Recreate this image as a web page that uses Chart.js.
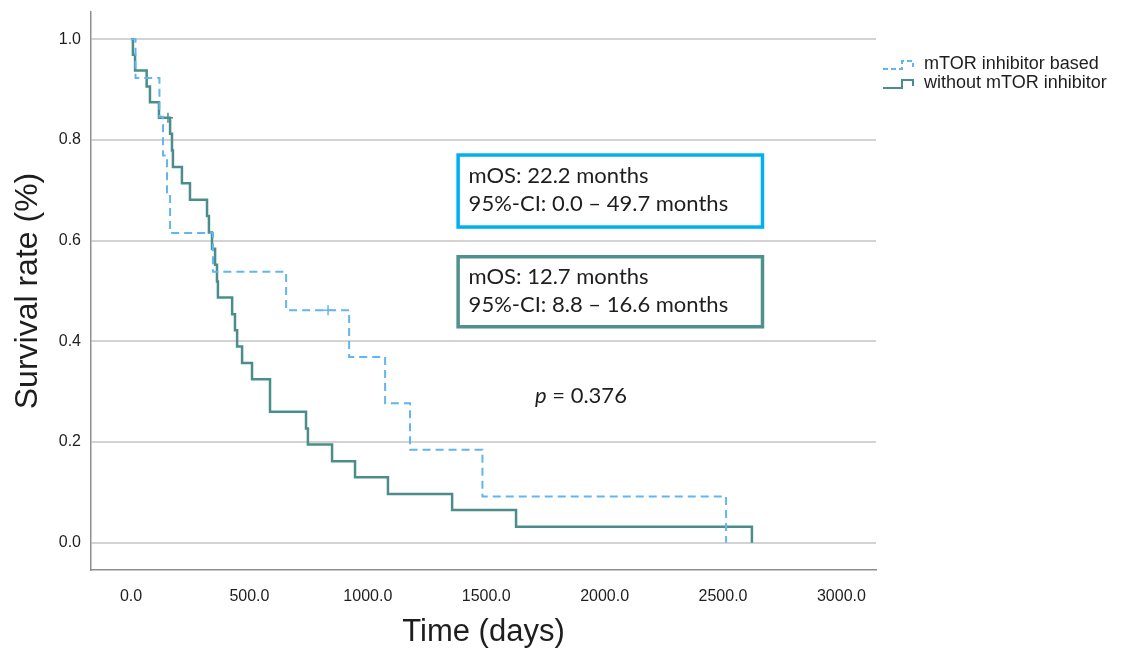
<!DOCTYPE html>
<html>
<head>
<meta charset="utf-8">
<script src="https://cdn.jsdelivr.net/npm/chart.js@4.4.1/dist/chart.umd.min.js"></script>
<style>
  html, body { margin: 0; padding: 0; background: #ffffff; }
  #wrap { width: 1129px; height: 653px; position: relative; }
</style>
</head>
<body>
<div id="wrap"><canvas id="km" width="1129" height="653"></canvas></div>
<script>
// ---------- DATA ----------
const seriesNames = ['mTOR inhibitor based', 'without mTOR inhibitor'];

// Kaplan-Meier steps: time of each event (days) and survival after it
const mtorDays = [0, 19, 120, 135, 152, 165, 346, 655, 921, 1073, 1178, 1484, 2513];
const mtorSurv = [1.0, 0.923, 0.846, 0.769, 0.692, 0.615, 0.538, 0.462, 0.369, 0.277, 0.185, 0.092, 0.0];
const mtorCensorDays = [832];
const mtorCensorSurv = [0.462];

const noMtorDays = [0, 8, 17, 66, 80, 118, 165, 173, 177, 215, 249, 321, 329, 342, 355, 363, 367,
  427, 439, 448, 469, 511, 587, 739, 747, 849, 946, 1085, 1356, 1626, 2622];
const noMtorSurv = [1.0, 0.969, 0.938, 0.906, 0.875, 0.844, 0.812, 0.779, 0.746, 0.714, 0.681, 0.649,
  0.616, 0.584, 0.552, 0.519, 0.487, 0.454, 0.422, 0.390, 0.357, 0.325, 0.260, 0.227, 0.195, 0.162,
  0.130, 0.097, 0.065, 0.032, 0.0];
const noMtorCensorDays = [156];
const noMtorCensorSurv = [0.844];

const xTickValues = [0, 500, 1000, 1500, 2000, 2500, 3000];
const yTickValues = [0, 0.2, 0.4, 0.6, 0.8, 1.0];

const xTitle = 'Time (days)';
const yTitle = 'Survival rate (%)';

const mtorBoxText = ['mOS: 22.2 months', '95%-CI: 0.0 \u2013 49.7 months'];
const noMtorBoxText = ['mOS: 12.7 months', '95%-CI: 8.8 \u2013 16.6 months'];
const pLabel = 'p';
const pValueText = ' = 0.376';

// annotation anchors in data coordinates [days, survival]
const mtorBoxRange = { x0: 1375, x1: 2673, y0: 0.624, y1: 0.773 };
const noMtorBoxRange = { x0: 1375, x1: 2673, y0: 0.426, y1: 0.571 };
const pValueAnchor = { x: 1900, y: 0.291 };

// ---------- STYLE ----------
const COL_MTOR = '#62b5ee';
const COL_NOMTOR = '#4b8d89';
const COL_BOX_MTOR = '#00b0f0';
const COL_BOX_NOMTOR = '#4f918c';
const W = 1129, H = 653;
const PLOT_LEFT = 91, PLOT_RIGHT = 876, PLOT_TOP = 12, PLOT_BOTTOM = 570;
const LEGEND_FONT = { family: "'Liberation Sans', Arial, sans-serif", size: 18 };
const LEGEND_PAD = 1, LEGEND_BOX = 38;
const ANNOT_FONT = '22px Lato, "Open Sans", sans-serif';
const ANNOT_FONT_I = 'italic 22px Lato, "Open Sans", sans-serif';

function pairs(xs, ys) { return xs.map((v, i) => ({ x: v, y: ys[i] })); }

function makeIcon(color, dash) {
  const c = document.createElement('canvas');
  c.width = LEGEND_BOX; c.height = 18;
  const g = c.getContext('2d');
  g.strokeStyle = color; g.lineWidth = 2;
  g.setLineDash(dash);
  g.beginPath();
  g.moveTo(6, 14); g.lineTo(25, 14); g.lineTo(25, 6); g.lineTo(36, 6); g.lineTo(36, 12);
  g.stroke();
  return c;
}
const icons = [makeIcon(COL_MTOR, [5, 3]), makeIcon(COL_NOMTOR, [])];

// legend width -> right padding so the plot ends at PLOT_RIGHT
const mc = document.createElement('canvas').getContext('2d');
mc.font = LEGEND_FONT.size + 'px ' + LEGEND_FONT.family;
const textW = Math.max(...seriesNames.map(s => mc.measureText(s).width));
const legendWidth = LEGEND_PAD + LEGEND_BOX + LEGEND_FONT.size / 2 + textW + 10;
const padRight = Math.max(0, W - PLOT_RIGHT - legendWidth);

const annotationPlugin = {
  id: 'kmAnnotations',
  afterDraw(chart) {
    const { ctx } = chart;
    const xs = chart.scales.x, ys = chart.scales.y;
    function drawBox(r, color, lines) {
      const l = xs.getPixelForValue(r.x0), rt = xs.getPixelForValue(r.x1);
      const t = ys.getPixelForValue(r.y1), b = ys.getPixelForValue(r.y0);
      ctx.save();
      ctx.fillStyle = '#ffffff';
      ctx.fillRect(l, t, rt - l, b - t);
      ctx.lineWidth = 3.5;
      ctx.strokeStyle = color;
      ctx.strokeRect(l + 1.5, t + 1.5, rt - l - 3, b - t - 3);
      ctx.fillStyle = '#1e1e1e';
      ctx.font = ANNOT_FONT;
      ctx.textBaseline = 'middle';
      ctx.textAlign = 'left';
      lines.forEach((s, i) => ctx.fillText(s, l + 12, t + 22 + i * 28));
      ctx.restore();
    }
    drawBox(mtorBoxRange, COL_BOX_MTOR, mtorBoxText);
    drawBox(noMtorBoxRange, COL_BOX_NOMTOR, noMtorBoxText);

    const cx = xs.getPixelForValue(pValueAnchor.x), cy = ys.getPixelForValue(pValueAnchor.y);
    ctx.save();
    ctx.fillStyle = '#1e1e1e';
    ctx.textBaseline = 'middle';
    ctx.textAlign = 'left';
    ctx.font = ANNOT_FONT_I;
    const w1 = ctx.measureText(pLabel).width;
    ctx.font = ANNOT_FONT;
    const w2 = ctx.measureText(pValueText).width;
    const x0 = cx - (w1 + w2) / 2;
    ctx.font = ANNOT_FONT_I;
    ctx.fillText(pLabel, x0, cy);
    ctx.font = ANNOT_FONT;
    ctx.fillText(pValueText, x0 + w1, cy);
    ctx.restore();
  }
};

new Chart(document.getElementById('km'), {
  type: 'line',
  data: {
    datasets: [
      {
        label: seriesNames[0],
        data: pairs(mtorDays, mtorSurv),
        stepped: 'before',
        borderColor: COL_MTOR,
        backgroundColor: COL_MTOR,
        borderWidth: 2,
        borderDash: [8, 5],
        pointRadius: 0,
        fill: false
      },
      {
        label: seriesNames[1],
        data: pairs(noMtorDays, noMtorSurv),
        stepped: 'before',
        borderColor: COL_NOMTOR,
        backgroundColor: COL_NOMTOR,
        borderWidth: 2.5,
        pointRadius: 0,
        fill: false
      },
      {
        label: 'censored-1',
        data: pairs(mtorCensorDays, mtorCensorSurv),
        showLine: false,
        pointStyle: 'cross',
        pointRadius: 5,
        borderColor: COL_MTOR,
        borderWidth: 1.5
      },
      {
        label: 'censored-2',
        data: pairs(noMtorCensorDays, noMtorCensorSurv),
        showLine: false,
        pointStyle: 'cross',
        pointRadius: 5,
        borderColor: COL_NOMTOR,
        borderWidth: 1.5
      }
    ]
  },
  options: {
    responsive: false,
    animation: false,
    devicePixelRatio: 1,
    layout: { padding: { left: 0, top: PLOT_TOP, right: padRight, bottom: 0 } },
    plugins: {
      tooltip: { enabled: false },
      legend: {
        position: 'right',
        align: 'start',
        title: { display: true, text: ' ', font: { size: 10 }, padding: { top: 30, bottom: 0 } },
        labels: {
          usePointStyle: true,
          pointStyleWidth: LEGEND_BOX,
          boxHeight: 18,
          padding: LEGEND_PAD,
          color: '#1e1e1e',
          font: LEGEND_FONT,
          generateLabels: (chart) => {
            const items = Chart.defaults.plugins.legend.labels.generateLabels(chart);
            return items.filter(it => it.datasetIndex < 2)
                        .map(it => Object.assign(it, { pointStyle: icons[it.datasetIndex] }));
          }
        }
      }
    },
    scales: {
      x: {
        type: 'linear',
        min: -169,
        max: 3146,
        afterBuildTicks: (s) => { s.ticks = xTickValues.map(v => ({ value: v })); },
        afterFit: (s) => { s.height = H - PLOT_BOTTOM; s.paddingLeft = 0; s.paddingRight = 0; },
        grid: { display: false, drawTicks: false },
        border: { display: true, color: '#8e8e8e', width: 1.5 },
        ticks: {
          padding: 17,
          color: '#1e1e1e',
          font: { family: "'Liberation Sans', Arial, sans-serif", size: 16 },
          maxRotation: 0,
          callback: (v) => Number(v).toFixed(1)
        },
        title: {
          display: true,
          text: xTitle,
          color: '#1e1e1e',
          font: { family: "'Liberation Sans', Arial, sans-serif", size: 31 },
          padding: { top: 0, bottom: 1.5 }
        }
      },
      y: {
        type: 'linear',
        min: -0.054,
        max: 1.054,
        afterBuildTicks: (s) => { s.ticks = yTickValues.map(v => ({ value: v })); },
        afterFit: (s) => { s.width = PLOT_LEFT; s.paddingTop = 0; s.paddingBottom = 0; },
        grid: { display: true, drawTicks: false, color: '#d3d3d3', lineWidth: 2 },
        border: { display: true, color: '#8e8e8e', width: 1.5 },
        ticks: {
          padding: 10,
          color: '#1e1e1e',
          font: { family: "'Liberation Sans', Arial, sans-serif", size: 16 },
          callback: (v) => Number(v).toFixed(1)
        },
        title: {
          display: true,
          text: yTitle,
          color: '#1e1e1e',
          font: { family: "'Liberation Sans', Arial, sans-serif", size: 32 },
          padding: { top: 9, bottom: 0 }
        }
      }
    }
  },
  plugins: [annotationPlugin]
});
</script>
</body>
</html>
